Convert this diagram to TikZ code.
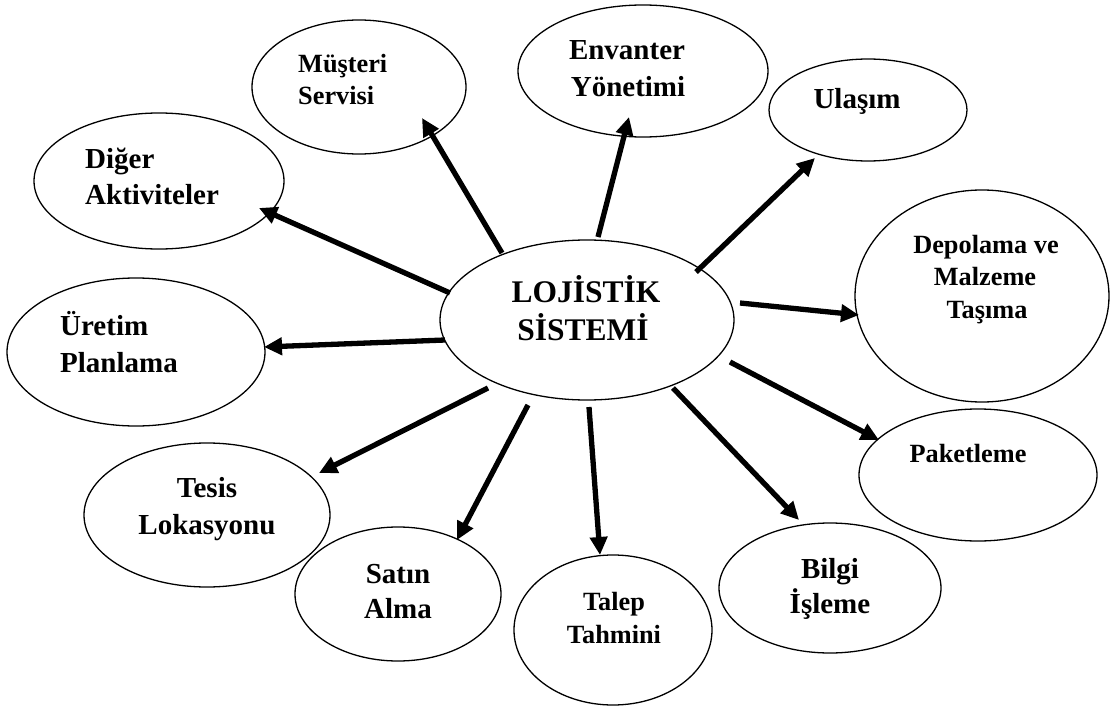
\documentclass[tikz,border=0pt]{standalone}
\usepackage{fontspec}
\setmainfont{Liberation Serif}
\usetikzlibrary{arrows.meta,shapes.geometric}
\begin{document}
\begin{tikzpicture}[x=1pt,y=-1pt,
  oval/.style={draw, line width=1.3pt, ellipse, inner sep=0pt},
  lbl/.style={inner sep=0pt, font=\bfseries\fontsize{29}{34}\selectfont},
  lbls/.style={inner sep=0pt, font=\bfseries\fontsize{26.3}{31}\selectfont},
  lblc/.style={inner sep=0pt, font=\bfseries\fontsize{31.5}{36}\selectfont},
  link/.style={line width=5.3pt, -{Triangle[length=18pt,width=17pt]}}]
\useasboundingbox (0,0) rectangle (1112,709);
\fill[white] (0,0) rectangle (1112,709);

% ---- ellipses ----
\node[oval, minimum width=294pt, minimum height=160pt] (hub) at (587,320) {};
\node[oval, minimum width=214pt, minimum height=134pt] (mus) at (359,87) {};
\node[oval, minimum width=250pt, minimum height=132pt] (env) at (643,71) {};
\node[oval, minimum width=198pt, minimum height=102pt] (ula) at (868,110) {};
\node[oval, minimum width=254pt, minimum height=212pt] (dep) at (982,296) {};
\node[oval, minimum width=238pt, minimum height=132pt] (pak) at (978,475) {};
\node[oval, minimum width=222pt, minimum height=130pt] (bil) at (830,588) {};
\node[oval, minimum width=198pt, minimum height=150pt] (tal) at (613,630) {};
\node[oval, minimum width=206pt, minimum height=134pt] (sat) at (398,594) {};
\node[oval, minimum width=246pt, minimum height=144pt] (tes) at (207,515) {};
\node[oval, minimum width=258pt, minimum height=148pt] (ure) at (136,352) {};
\node[oval, minimum width=250pt, minimum height=136pt] (dig) at (159,181) {};

% ---- labels ----
\node[lblc, anchor=base] (hub1) at (586,302) {LOJİSTİK};
\node[lblc, anchor=base] (hub2) at (583,340) {SİSTEMİ};

\node[lbls, anchor=base west] (mus1) at (298,73) {Müşteri};
\node[lbls, anchor=base west] (mus2) at (298,105) {Servisi};

\node[lbl, anchor=base] (env1) at (627,60) {Envanter};
\node[lbl, anchor=base] (env2) at (628,96) {Yönetimi};

\node[lbl, anchor=base] (ula1) at (857,108) {Ulaşım};

\node[lbls, anchor=base] (dep1) at (986,253) {Depolama ve};
\node[lbls, anchor=base] (dep2) at (985,285) {Malzeme};
\node[lbls, anchor=base] (dep3) at (987,318) {Taşıma};

\node[lbls, anchor=base] (pak1) at (968,462) {Paketleme};

\node[lbl, anchor=base] (bil1) at (830,578) {Bilgi};
\node[lbl, anchor=base] (bil2) at (830,613) {İşleme};

\node[lbls, anchor=base] (tal1) at (614,610) {Talep};
\node[lbls, anchor=base] (tal2) at (614,643) {Tahmini};

\node[lbl, anchor=base] (sat1) at (398,583) {Satın};
\node[lbl, anchor=base] (sat2) at (398,618) {Alma};

\node[lbl, anchor=base] (tes1) at (207,497) {Tesis};
\node[lbl, anchor=base] (tes2) at (207,534) {Lokasyonu};

\node[lbl, anchor=base west] (ure1) at (60,335) {Üretim};
\node[lbl, anchor=base west] (ure2) at (60,372) {Planlama};

\node[lbl, anchor=base west] (dig1) at (85,168) {Diğer};
\node[lbl, anchor=base west] (dig2) at (85,204) {Aktiviteler};

% ---- arrow ends: tails at the hub, tips at the satellites ----
\coordinate (t-mus) at (502,253); \coordinate (h-mus) at (422,118);
\coordinate (t-dig) at (450,293); \coordinate (h-dig) at (259,208);
\coordinate (t-ure) at (445,340); \coordinate (h-ure) at (264,347);
\coordinate (t-tes) at (488,388); \coordinate (h-tes) at (319,473);
\coordinate (t-sat) at (528,405); \coordinate (h-sat) at (457,540);
\coordinate (t-tal) at (589,407); \coordinate (h-tal) at (600,555);
\coordinate (t-bil) at (673,388); \coordinate (h-bil) at (799,520);
\coordinate (t-pak) at (730,362); \coordinate (h-pak) at (879,440);
\coordinate (t-dep) at (740,303); \coordinate (h-dep) at (859,315);
\coordinate (t-ula) at (696,272); \coordinate (h-ula) at (815,158);
\coordinate (t-env) at (598,237); \coordinate (h-env) at (629,117);

\foreach \n in {mus,dig,ure,tes,sat,tal,bil,pak,dep,ula,env}
  \draw[link] (t-\n) -- (h-\n);
\end{tikzpicture}
\end{document}
